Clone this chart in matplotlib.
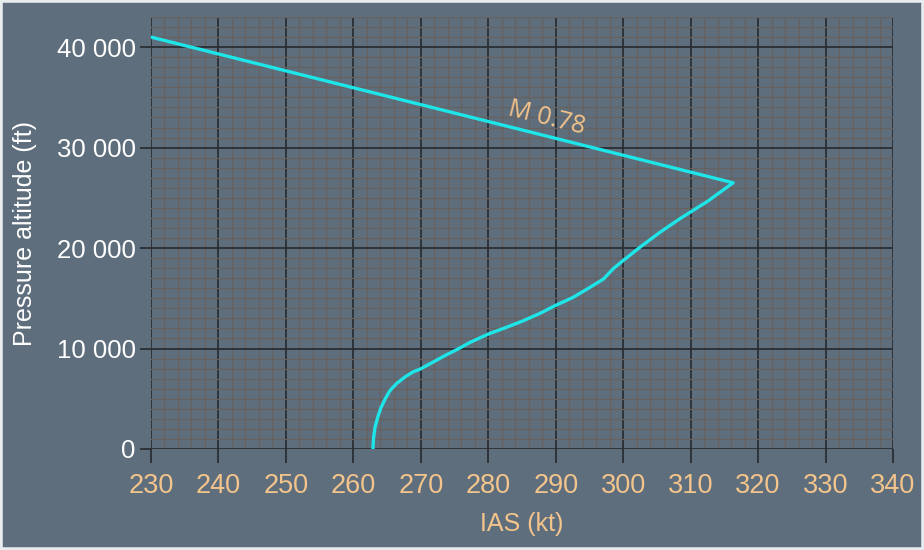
import matplotlib
matplotlib.use('Agg')
import matplotlib.pyplot as plt
from matplotlib.patches import Rectangle
from matplotlib.ticker import MultipleLocator, FuncFormatter

# IAS (kt) vs pressure altitude (ft)
ias = [230.0, 316.3, 312.5, 308.4, 305.5, 302.5, 300.0, 298.5, 297.1, 295.1,
       292.6, 289.9, 287.7, 285.2, 282.7, 280.0, 277.3, 275.3, 273.8, 271.9,
       269.9, 268.9, 267.7, 266.4, 265.4, 264.7, 264.1, 263.6, 263.2, 263.0,
       262.9]
alt = [41000, 26500, 24650, 22920, 21590, 20090, 18760, 17930, 16930, 16100,
       15100, 14270, 13510, 12770, 12110, 11440, 10610, 9880, 9380, 8680,
       7950, 7690, 7190, 6520, 5790, 4960, 4130, 3130, 2130, 1130,
       0]
x_ticks = [230, 240, 250, 260, 270, 280, 290, 300, 310, 320, 330, 340]
y_ticks = [0, 10000, 20000, 30000, 40000]
mach_label = 'M 0.78'

bg = '#5e6e7c'
peach = '#f3c48c'
plt.rcParams['font.family'] = ['Liberation Sans', 'DejaVu Sans']

fig = plt.figure(figsize=(9.24, 5.5), dpi=100, facecolor=bg)
ax = fig.add_axes([151 / 924, 101 / 550, 742 / 924, 432 / 550])
ax.set_facecolor(bg)

ax.set_xlim(230, 340)
ax.set_ylim(0, 43000)
ax.set_xticks(x_ticks)
ax.set_yticks(y_ticks)
ax.xaxis.set_minor_locator(MultipleLocator(2))
ax.yaxis.set_minor_locator(MultipleLocator(1000))
ax.yaxis.set_major_formatter(FuncFormatter(lambda v, p: '{:,.0f}'.format(v).replace(',', ' ')))

ax.grid(which='minor', color='#67615f', linewidth=0.9)
ax.grid(which='major', color='#2a2e33', linewidth=1.3)
ax.set_axisbelow(True)
for s in ax.spines.values():
    s.set_visible(False)

ax.tick_params(axis='x', which='major', length=10, width=1.3, color='#2a2e33',
               labelsize=19.5, labelcolor=peach, pad=7)
ax.tick_params(axis='y', which='major', length=8, width=1.3, color='#2a2e33',
               labelsize=18.5, labelcolor='white', pad=3)
ax.tick_params(which='minor', length=0)

ax.plot(ias, alt, color='#1ee6e8', linewidth=2.4, solid_joinstyle='round',
        solid_capstyle='round', zorder=3)

ax.text(288.7, 32950, mach_label, color=peach, fontsize=18, rotation=-14,
        ha='center', va='center', family=['Open Sans', 'DejaVu Sans'])

ax.set_xlabel('IAS (kt)', color=peach, fontsize=18, labelpad=10)
ax.set_ylabel('Pressure altitude (ft)', color='white', fontsize=18, labelpad=14)

# thin light frame round the picture
fig.patches.append(Rectangle((0, 0), 1, 1, transform=fig.transFigure, fill=False,
                             edgecolor='#e8ecef', linewidth=4))

plt.savefig('out.png', dpi=100, facecolor=bg)
